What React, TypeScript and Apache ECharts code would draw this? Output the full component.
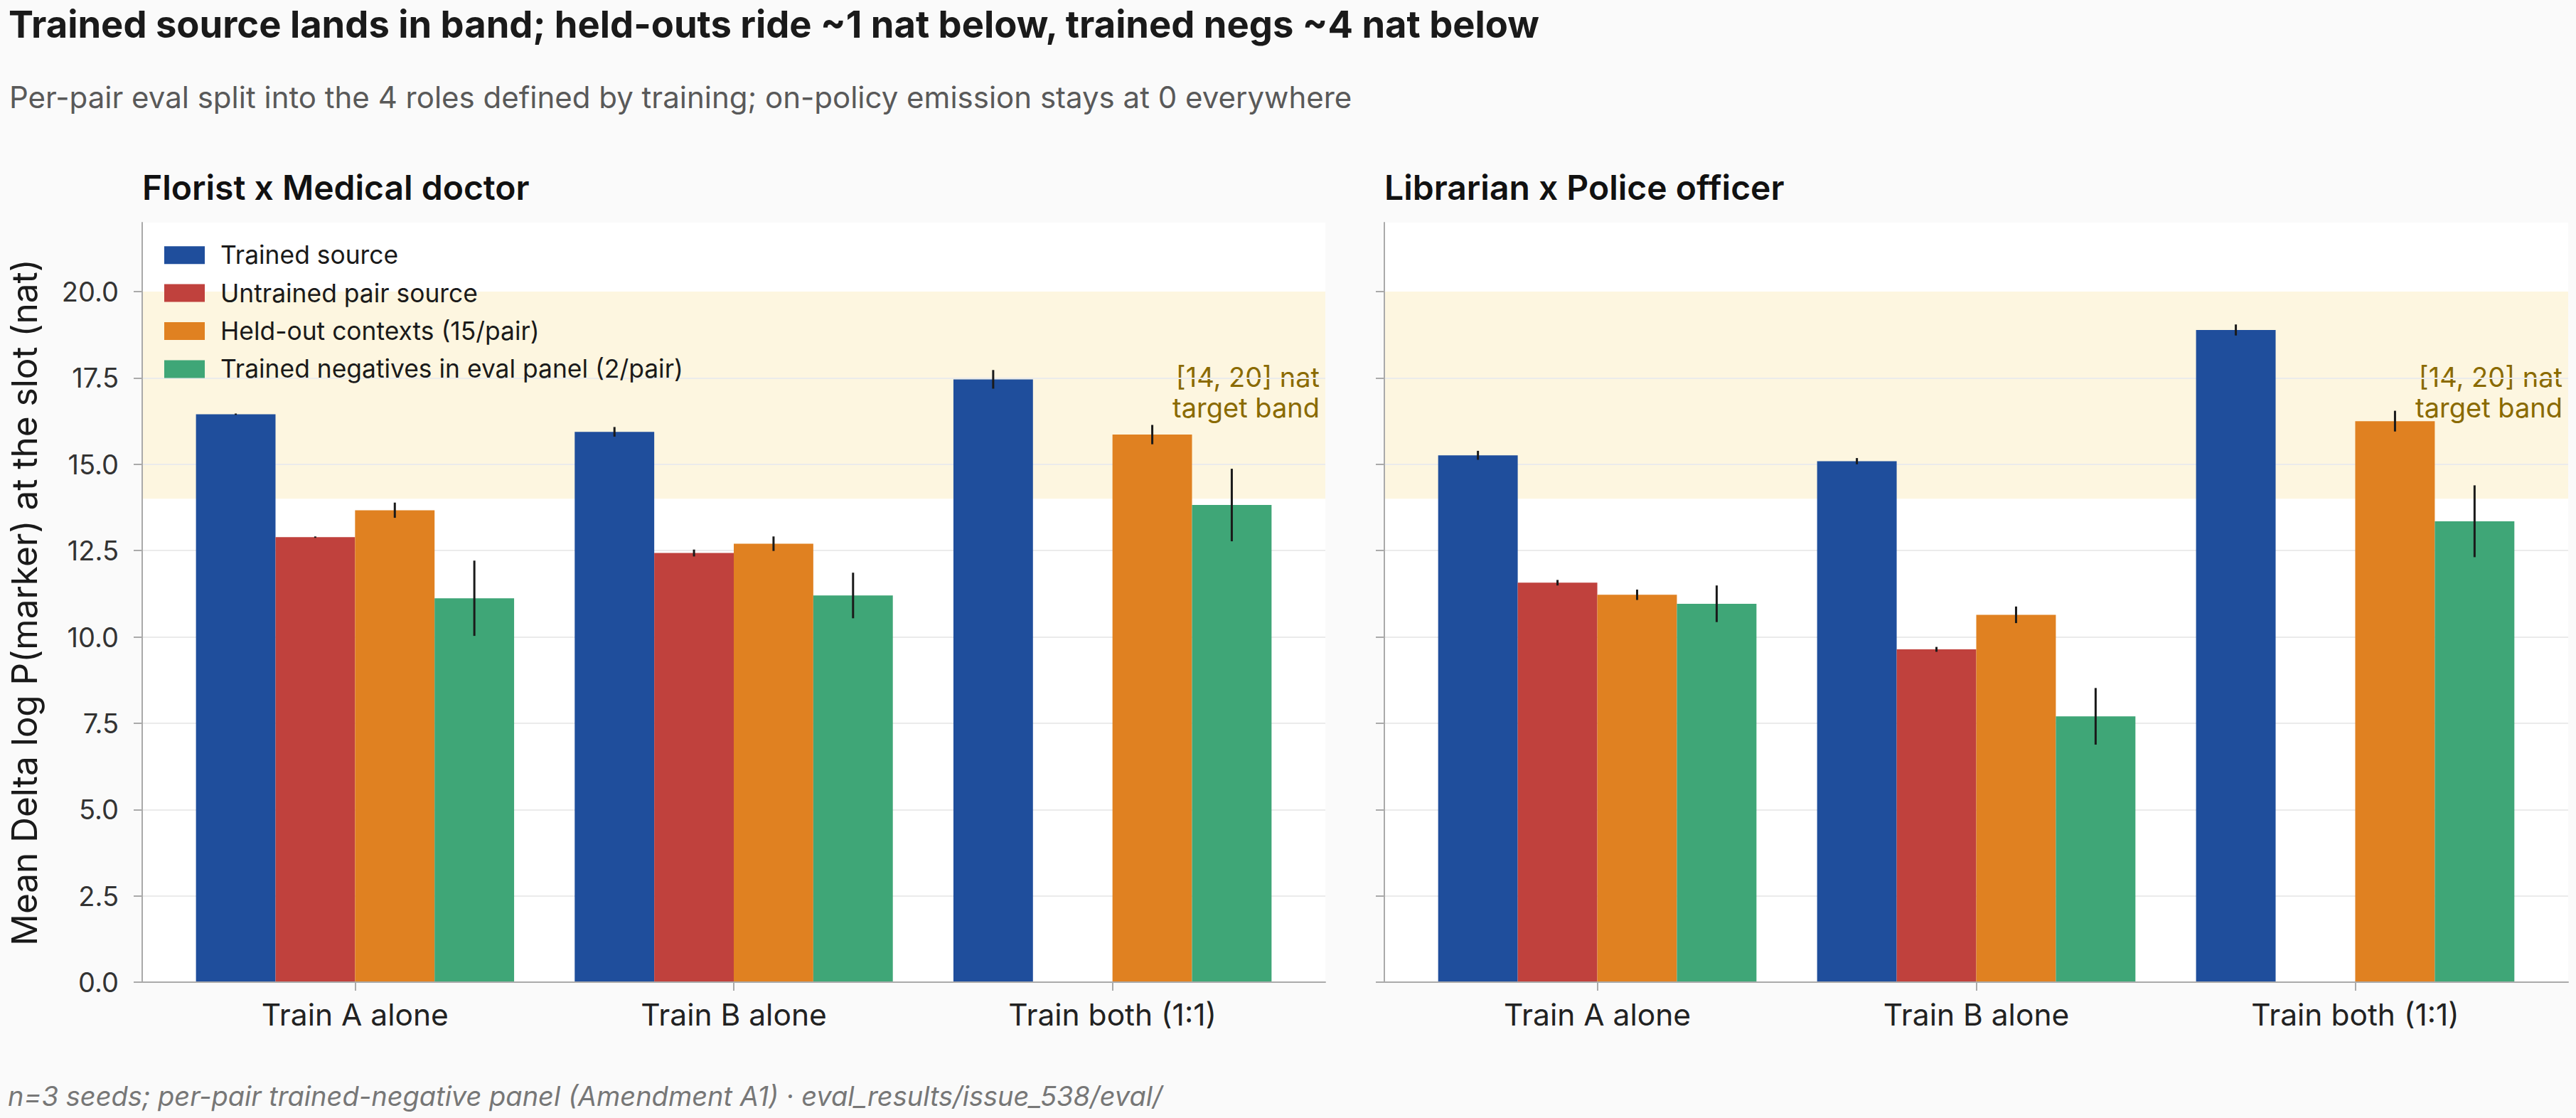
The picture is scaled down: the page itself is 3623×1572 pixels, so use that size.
import React, { useEffect, useRef } from "react";
import * as echarts from "echarts";

const W = 3623;
const H = 1572;
const FONT = "Inter, 'Noto Sans', sans-serif";

const categories = ["Train A alone", "Train B alone", "Train both (1:1)"];
const roles = [
  "Trained source",
  "Untrained pair source",
  "Held-out contexts (15/pair)",
  "Trained negatives in eval panel (2/pair)",
];
const roleColors = ["#1f4e9c", "#c0413d", "#e08121", "#3fa677"];
const yTicks = [0, 2.5, 5, 7.5, 10, 12.5, 15, 17.5, 20];
const band = [14, 20];

// Panel 1: Florist x Medical doctor
const p1Trained = [16.45, 15.94, 17.46];
const p1TrainedErr = [0.02, 0.14, 0.27];
const p1Untrained = [12.89, 12.43, null];
const p1UntrainedErr = [0.02, 0.1, null];
const p1HeldOut = [13.67, 12.7, 15.86];
const p1HeldOutErr = [0.22, 0.21, 0.28];
const p1Negs = [11.12, 11.2, 13.82];
const p1NegsErr = [1.09, 0.66, 1.05];

// Panel 2: Librarian x Police officer
const p2Trained = [15.26, 15.09, 18.89];
const p2TrainedErr = [0.13, 0.09, 0.16];
const p2Untrained = [11.57, 9.64, null];
const p2UntrainedErr = [0.08, 0.07, null];
const p2HeldOut = [11.22, 10.64, 16.25];
const p2HeldOutErr = [0.15, 0.24, 0.3];
const p2Negs = [10.96, 7.7, 13.35];
const p2NegsErr = [0.53, 0.82, 1.04];

const panels = [
  {
    title: "Florist x Medical doctor",
    values: [p1Trained, p1Untrained, p1HeldOut, p1Negs],
    errs: [p1TrainedErr, p1UntrainedErr, p1HeldOutErr, p1NegsErr],
  },
  {
    title: "Librarian x Police officer",
    values: [p2Trained, p2Untrained, p2HeldOut, p2Negs],
    errs: [p2TrainedErr, p2UntrainedErr, p2HeldOutErr, p2NegsErr],
  },
];

const BAR_W = 0.21;
const X_MIN = -0.562;
const X_MAX = 2.562;

const gridLayout = [
  { left: 200, top: 313, width: 1664, height: 1068 },
  { left: 1947, top: 313, width: 1665, height: 1068 },
];

function buildOption() {
  const grid = gridLayout.map((g) => ({
    ...g,
    show: true,
    backgroundColor: "#ffffff",
    borderWidth: 0,
  }));

  const xAxis = gridLayout.map((_, i) => ({
    type: "value",
    gridIndex: i,
    min: X_MIN,
    max: X_MAX,
    z: 3,
    axisLine: { show: true, onZero: false, lineStyle: { color: "#aaaaaa", width: 2 } },
    axisTick: {
      show: true,
      length: 12,
      customValues: [0, 1, 2],
      lineStyle: { color: "#aaaaaa", width: 2 },
    },
    axisLabel: {
      show: true,
      customValues: [0, 1, 2],
      formatter: (v: number) => categories[Math.round(v)] ?? "",
      fontSize: 42.5,
      fontFamily: FONT,
      color: "#222222",
      margin: 24,
    },
    splitLine: { show: false },
  }));

  const yAxis = gridLayout.map((_, i) => ({
    type: "value",
    gridIndex: i,
    min: 0,
    max: 22,
    interval: 2.5,
    z: 1.5,
    name: i === 0 ? "Mean Delta log P(marker) at the slot (nat)" : "",
    nameLocation: "middle",
    nameGap: 141,
    nameTextStyle: { fontSize: 49.5, fontFamily: FONT, color: "#1a1a1a" },
    axisLine: { show: true, onZero: false, lineStyle: { color: "#aaaaaa", width: 2 } },
    axisTick: {
      show: true,
      length: 12,
      customValues: yTicks,
      lineStyle: { color: "#aaaaaa", width: 2 },
    },
    axisLabel: {
      show: i === 0,
      customValues: yTicks,
      formatter: (v: number) => v.toFixed(1),
      fontSize: 38,
      fontFamily: FONT,
      color: "#333333",
      margin: 33,
    },
    splitLine: {
      show: true,
      showMaxLine: false,
      lineStyle: { color: "#ebebeb", width: 2 },
    },
  }));

  const series: any[] = [];

  panels.forEach((panel, pi) => {
    // target band + annotation
    series.push({
      type: "custom",
      name: "band" + pi,
      xAxisIndex: pi,
      yAxisIndex: pi,
      z: 1,
      silent: true,
      encode: { x: 0, y: [1, 2] },
      data: [[0, band[0], band[1]]],
      renderItem: (params: any, api: any) => {
        const cs = params.coordSys;
        const yTop = api.coord([0, api.value(2)])[1];
        const yBot = api.coord([0, api.value(1)])[1];
        const yText = api.coord([0, 17.08])[1];
        return {
          type: "group",
          children: [
            {
              type: "rect",
              shape: { x: cs.x, y: yTop, width: cs.width, height: yBot - yTop },
              style: { fill: "#fdf6e0" },
            },
            {
              type: "text",
              x: cs.x + cs.width - 8,
              y: yText,
              style: {
                text: `[${band[0]}, ${band[1]}] nat\ntarget band`,
                fill: "#8a6a00",
                fontSize: 38,
                fontFamily: FONT,
                lineHeight: 43,
                align: "right",
                verticalAlign: "middle",
              },
            },
          ],
        };
      },
    });

    roles.forEach((role, s) => {
      const vals = panel.values[s];
      const errs = panel.errs[s];
      const data: any[] = [];
      vals.forEach((v, ci) => {
        if (v !== null && v !== undefined) data.push([ci, v, errs[ci]]);
      });
      const color = roleColors[s];
      series.push({
        type: "custom",
        name: role,
        xAxisIndex: pi,
        yAxisIndex: pi,
        z: 2,
        itemStyle: { color },
        encode: { x: 0, y: 1 },
        data,
        renderItem: (params: any, api: any) => {
          const ci = api.value(0);
          const val = api.value(1);
          const err = api.value(2);
          const xc = ci + (s - 1.5) * BAR_W;
          const pBase = api.coord([xc - BAR_W / 2, 0]);
          const pTop = api.coord([xc + BAR_W / 2, val]);
          const e0 = api.coord([xc, val - err]);
          const e1 = api.coord([xc, val + err]);
          return {
            type: "group",
            children: [
              {
                type: "rect",
                shape: {
                  x: pBase[0],
                  y: pTop[1],
                  width: pTop[0] - pBase[0],
                  height: pBase[1] - pTop[1],
                },
                style: { fill: color },
              },
              {
                type: "line",
                shape: { x1: e0[0], y1: e0[1], x2: e1[0], y2: e1[1] },
                style: { stroke: "#1a1a1a", lineWidth: 3 },
              },
            ],
          };
        },
      });
    });
  });

  const textEl = (
    text: string,
    x: number,
    y: number,
    fontSize: number,
    fill: string,
    fontWeight: any = "normal",
    fontStyle: any = "normal"
  ) => ({
    type: "text",
    x,
    y,
    silent: true,
    style: {
      text,
      fill,
      fontSize,
      fontWeight,
      fontStyle,
      fontFamily: FONT,
      align: "left",
      textAlign: "left",
      verticalAlign: "middle",
      textVerticalAlign: "middle",
    },
  });

  return {
    animation: false,
    backgroundColor: "#fafafa",
    textStyle: { fontFamily: FONT },
    grid,
    xAxis,
    yAxis,
    legend: {
      show: true,
      data: roles,
      orient: "vertical",
      left: 231,
      top: 341,
      padding: 0,
      icon: "rect",
      itemWidth: 57,
      itemHeight: 25,
      itemGap: 18,
      selectedMode: false,
      textStyle: {
        fontSize: 35.4,
        fontFamily: FONT,
        color: "#1a1a1a",
        lineHeight: 35.4,
        padding: [0, 0, 0, 17],
      },
    },
    graphic: [
      textEl(
        "Trained source lands in band; held-outs ride ~1 nat below, trained negs ~4 nat below",
        12,
        34,
        52.5,
        "#1a1a1a",
        700
      ),
      textEl(
        "Per-pair eval split into the 4 roles defined by training; on-policy emission stays at 0 everywhere",
        13,
        136,
        42,
        "#595959"
      ),
      textEl(panels[0].title, 200, 263, 48, "#111111", 600),
      textEl(panels[1].title, 1947, 263, 48, "#111111", 600),
      textEl(
        "n=3 seeds; per-pair trained-negative panel (Amendment A1) · eval_results/issue_538/eval/",
        11,
        1541,
        38,
        "#777777",
        "normal",
        "italic"
      ),
    ],
    series,
  };
}

export default function App() {
  const ref = useRef<HTMLDivElement>(null);
  useEffect(() => {
    if (!ref.current) return;
    const chart = echarts.init(ref.current, null, { renderer: "svg", width: W, height: H });
    chart.setOption(buildOption() as any);
    return () => chart.dispose();
  }, []);
  return (
    <div
      ref={ref}
      style={{ position: "absolute", left: 0, top: 0, width: W, height: H, background: "#fafafa" }}
    />
  );
}
